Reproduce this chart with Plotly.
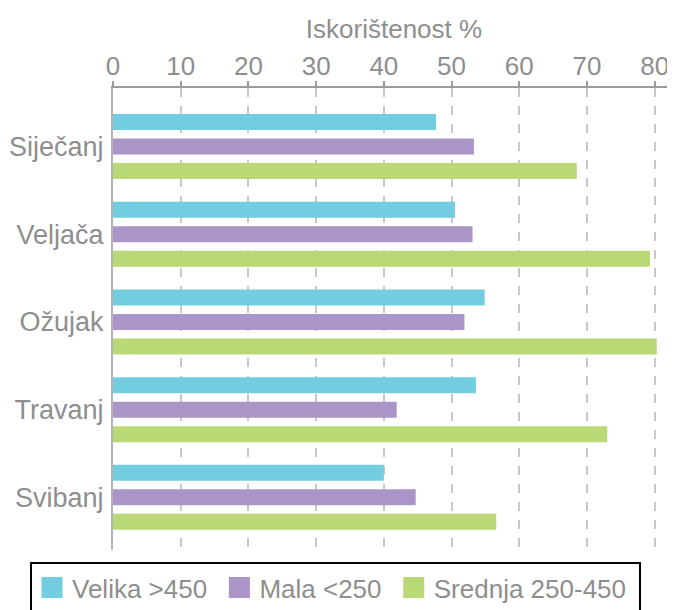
import plotly.graph_objects as go

# Podaci
mjeseci = ['Siječanj', 'Veljača', 'Ožujak', 'Travanj', 'Svibanj']
velika = [47.7, 50.5, 54.9, 53.6, 40.0]
mala = [53.3, 53.1, 51.9, 41.9, 44.7]
srednja = [68.5, 79.3, 80.3, 73.0, 56.6]

serije = [
    ('Velika >450\u00a0', velika, '#72CDE0'),
    ('Mala <250\u00a0', mala, '#AB95C8'),
    ('Srednja 250-450\u00a0', srednja, '#B9D976'),
]

siva = '#8e8e8e'
font = 'Liberation Sans, Arial, sans-serif'

fig = go.Figure()
for ime, vrijednosti, boja in serije:
    fig.add_trace(go.Bar(y=mjeseci, x=vrijednosti, orientation='h', name=ime,
                         marker=dict(color=boja, line_width=0), showlegend=False))
    # samo za legendu (veći kvadratići)
    fig.add_trace(go.Scatter(x=[None], y=[None], mode='markers', name=ime,
                             marker=dict(symbol='square', size=16, color=boja,
                                         line=dict(color=boja, width=6))))

# stranica ima 8px margine tijela, pa je slika pomaknuta za 8px
fig.update_layout(
    width=667, height=605,
    margin=dict(l=105, r=0, t=80, b=63),
    paper_bgcolor='white', plot_bgcolor='white',
    barmode='group', bargap=0.162, bargroupgap=0.347,
    font=dict(family=font, size=26, color=siva),
    legend=dict(orientation='h', x=-0.1477, xanchor='left', y=-0.1364, yanchor='bottom',
                bordercolor='black', borderwidth=2, bgcolor='white',
                font=dict(size=26, color=siva), itemsizing='trace',
                tracegroupgap=0, itemwidth=30),
)

fig.update_xaxes(
    side='top', range=[0, 83], tickvals=[0, 10, 20, 30, 40, 50, 60, 70, 80],
    showline=True, linecolor='#9a9a9a', linewidth=2,
    ticks='outside', ticklen=5, tickcolor='#9a9a9a', tickwidth=2,
    showgrid=True, gridcolor='#c8c8c8', griddash='dash', gridwidth=1.5,
    zeroline=False, automargin=False, ticklabelstandoff=-4,
    title=dict(text='Iskorištenost %', font=dict(size=26, color=siva), standoff=4),
    tickfont=dict(size=26, color=siva),
)
fig.update_yaxes(
    range=[4.6, -0.667], showline=True, linecolor='#b4b4b4', linewidth=2,
    showgrid=False, ticks='', ticklabelstandoff=2, automargin=False,
    tickfont=dict(size=27, color=siva),
)

fig.write_html('out.html')
